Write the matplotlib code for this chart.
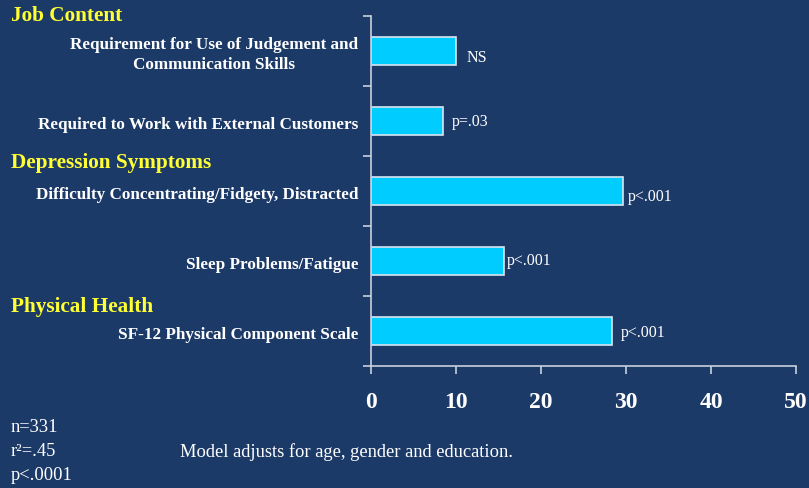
import matplotlib
matplotlib.use("Agg")
import matplotlib.pyplot as plt
import matplotlib.transforms as mtransforms

# data
labels = ["Requirement for Use of Judgement and\nCommunication Skills",
          "Required to Work with External Customers",
          "Difficulty Concentrating/Fidgety, Distracted",
          "Sleep Problems/Fatigue",
          "SF-12 Physical Component Scale"]
values = [10.0, 8.5, 29.6, 15.6, 28.4]
pvals = ["NS", "p=.03", "p<.001", "p<.001", "p<.001"]
groups = ["Job Content", "Depression Symptoms", "Physical Health"]
group_pos = [-0.51, 1.59, 3.64]
xticks = [0, 10, 20, 30, 40, 50]

# layout
note_dx = [11, 9, 5, 3, 8]   # px gap after bar end
note_dy = [6, 0, 5, -1, 1]   # px shift (down positive)

bg = "#1C3A68"
bar_c = "#00CCFF"
edge_c = "#D8E4F0"
axis_c = "#C8D0DC"

plt.rcParams["font.family"] = ["Liberation Serif", "DejaVu Serif"]

fig = plt.figure(figsize=(8.09, 4.89), dpi=100, facecolor=bg)
ax = fig.add_axes([371 / 809, 1 - 367 / 489, 425 / 809, 350 / 489])
ax.set_facecolor(bg)

ypos = list(range(len(values)))
ax.barh(ypos, values, height=0.4, color=bar_c, edgecolor=edge_c, linewidth=1.2)
ax.set_xlim(0, 50)
ax.set_ylim(len(values) - 0.5, -0.5)

for s in ["top", "right"]:
    ax.spines[s].set_visible(False)
for s in ["left", "bottom"]:
    ax.spines[s].set_color(axis_c)
    ax.spines[s].set_linewidth(1.2)

ax.set_xticks(xticks)
ax.set_xticklabels([str(t) for t in xticks], fontsize=17, fontweight="bold", color="white")
ax.tick_params(axis="x", colors=axis_c, length=6, width=1.2, pad=12, labelcolor="white")
ax.set_yticks([i - 0.5 for i in range(len(values) + 1)])
ax.set_yticklabels([])
ax.tick_params(axis="y", colors=axis_c, length=6, width=1.2)

for i, lab in enumerate(labels):
    ax.annotate(lab, xy=(0, i), xycoords=("axes fraction", "data"),
                xytext=(-13, -3), textcoords="offset pixels",
                ha="right", va="center", multialignment="center",
                fontsize=12.3, fontweight="bold", color="white", linespacing=1.35)

for i, (v, p) in enumerate(zip(values, pvals)):
    ax.annotate(p, xy=(v, i), xytext=(note_dx[i], -note_dy[i]),
                textcoords="offset pixels", ha="left", va="center",
                fontsize=11.5, color="white")

trans = mtransforms.blended_transform_factory(fig.transFigure, ax.transData)
for g, gy in zip(groups, group_pos):
    ax.text(11 / 809, gy, g, transform=trans, ha="left", va="center",
            fontsize=15.3, fontweight="bold", color="#FFFF33", clip_on=False)

fig.text(11 / 809, 1 - 428 / 489, "n=331", fontsize=13.3, color="white", va="center")
fig.text(11 / 809, 1 - 452 / 489, "r²=.45", fontsize=13.3, color="white", va="center")
fig.text(11 / 809, 1 - 476 / 489, "p<.0001", fontsize=13.3, color="white", va="center")
fig.text(180 / 809, 1 - 452 / 489, "Model adjusts for age, gender and education.",
         fontsize=13.3, color="white", va="center")

fig.savefig("out.png", dpi=100, facecolor=bg)
